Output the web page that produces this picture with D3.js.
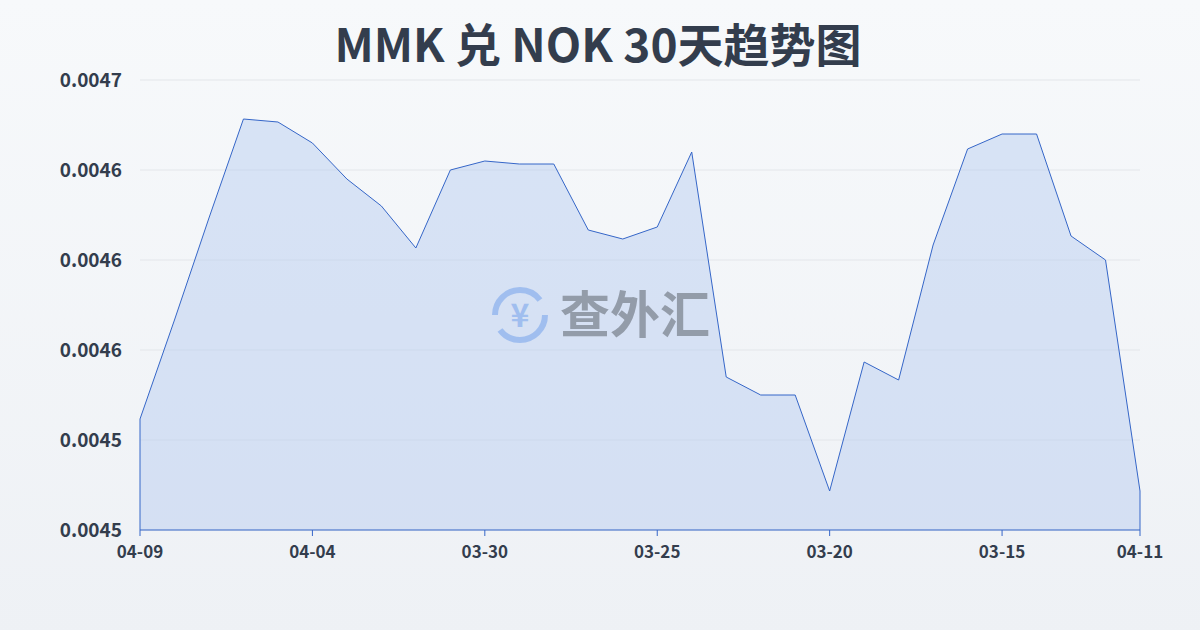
<!DOCTYPE html>
<html><head><meta charset="utf-8">
<script src="https://cdn.jsdelivr.net/npm/d3@7"></script>
<style>body{margin:0;background:linear-gradient(#f7f9fb,#eef1f5);font-family:"Noto Sans CJK SC","Noto Sans",sans-serif}</style>
</head><body>
<svg id="c" width="1200" height="630"></svg>
<script>
const title = "MMK 兑 NOK 30天趋势图";
const tickLabels = ["04-09","04-04","03-30","03-25","03-20","03-15","04-11"];
const tickIdx = [0,5,10,15,20,25,29];
const yTicks = [0.00451,0.00454,0.00457,0.00460,0.00463,0.00466];
const values = [0.004547,0.004580,0.004614,0.004647,0.004646,0.004639,0.004627,0.004618,0.004604,0.004630,0.004633,0.004632,0.004632,0.004610,0.004607,0.004611,0.004636,0.004561,0.004555,0.004555,0.004523,0.004566,0.004560,0.004605,0.004637,0.004642,0.004642,0.004608,0.004600,0.004523];

const svg = d3.select("#c");
const x = d3.scaleLinear().domain([0, values.length - 1]).range([140, 1140]);
const y = d3.scaleLinear().domain([0.00451, 0.00466]).range([530, 80]);

svg.append("text").attr("x", 598).attr("y", 62).attr("text-anchor", "middle")
  .attr("font-size", 46).attr("font-weight", "bold").attr("fill", "#333d4d").text(title);

svg.selectAll(".g").data(yTicks).enter().append("line")
  .attr("x1", 140).attr("x2", 1140).attr("y1", d => y(d)).attr("y2", d => y(d))
  .attr("stroke", "#e3e6ea");
svg.selectAll(".yl").data(yTicks).enter().append("text")
  .attr("x", 122).attr("y", d => y(d) + 7).attr("text-anchor", "end")
  .attr("font-size", 19).attr("font-weight", "bold").attr("fill", "#333d4d")
  .text(d => d3.format(".4f")(d));

const area = d3.area().x((d, i) => x(i)).y0(530).y1(d => y(d));
svg.append("path").datum(values).attr("d", area).attr("fill", "rgba(180,202,240,0.45)");
svg.append("path").datum(values).attr("d", d3.line().x((d, i) => x(i)).y(d => y(d)))
  .attr("fill", "none").attr("stroke", "#3566c8").attr("stroke-width", 1);
svg.append("line").attr("x1",140).attr("x2",140).attr("y1",y(values[0])).attr("y2",530).attr("stroke","#3566c8");
svg.append("line").attr("x1",1140).attr("x2",1140).attr("y1",y(values[29])).attr("y2",530).attr("stroke","#3566c8");
svg.append("line").attr("x1",140).attr("x2",1140).attr("y1",530).attr("y2",530).attr("stroke","#3566c8");

svg.selectAll(".xl").data(tickIdx).enter().append("text")
  .attr("x", d => x(d)).attr("y", 558).attr("text-anchor", "middle")
  .attr("font-size", 17).attr("font-weight", "bold").attr("fill", "#333d4d")
  .text((d, i) => tickLabels[i]);
svg.selectAll(".xt").data(tickIdx).enter().append("line")
  .attr("x1", d => x(d)).attr("x2", d => x(d)).attr("y1", 530).attr("y2", 536).attr("stroke", "#3566c8");

// watermark
const wm = svg.append("g").attr("opacity", 0.75);
wm.append("circle").attr("cx", 520).attr("cy", 315).attr("r", 25).attr("fill", "none")
  .attr("stroke", "#8fb3ee").attr("stroke-width", 6).attr("stroke-dasharray", "62 16");
wm.append("text").attr("x", 520).attr("y", 327).attr("text-anchor", "middle")
  .attr("font-size", 32).attr("font-weight", "bold").attr("fill", "#8fb3ee").text("¥");
wm.append("text").attr("x", 560).attr("y", 333).attr("font-size", 50).attr("font-weight", "bold")
  .attr("fill", "#7d8591").text("查外汇");
</script>
</body></html>
